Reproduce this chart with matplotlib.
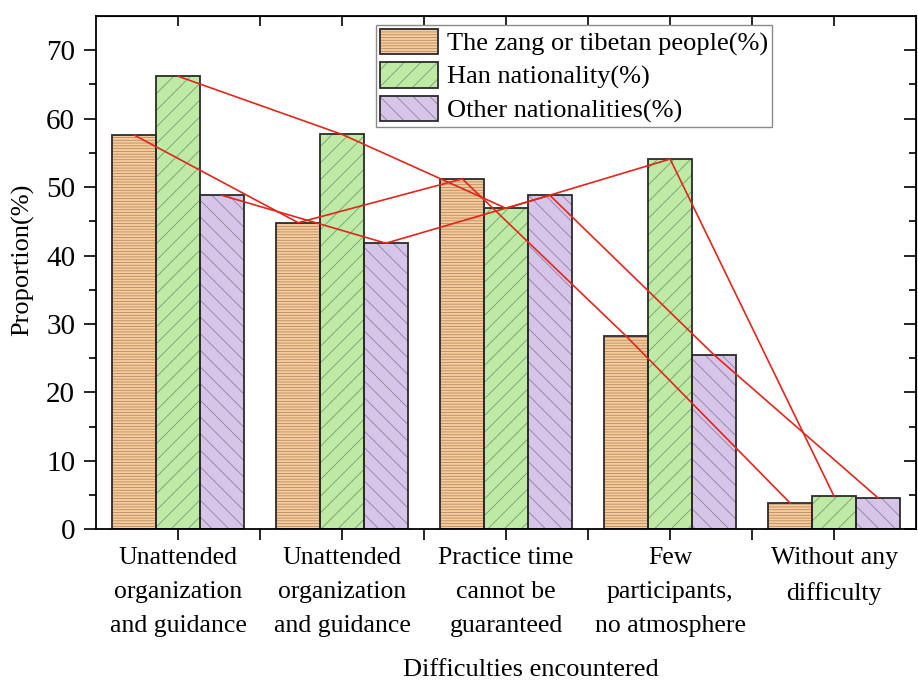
import matplotlib
matplotlib.use('Agg')
import matplotlib.pyplot as plt
import matplotlib.patches as mpatches
from matplotlib.legend_handler import HandlerTuple
import numpy as np

plt.rcParams['font.family'] = ['Liberation Serif', 'DejaVu Serif']
plt.rcParams['hatch.linewidth'] = 0.6

# data
categories = ['Unattended\norganization\nand guidance',
              'Unattended\norganization\nand guidance',
              'Practice time\ncannot be\nguaranteed',
              'Few\nparticipants,\nno atmosphere',
              'Without any\ndifficulty']
series_names = ['The zang or tibetan people(%)', 'Han nationality(%)', 'Other nationalities(%)']
zang = [57.6, 44.8, 51.2, 28.2, 3.8]
han = [66.2, 57.7, 46.9, 54.1, 4.8]
other = [48.8, 41.8, 48.8, 25.5, 4.6]

fills = ['#F9CC9A', '#BDEBA6', '#D6C4E9']
hatch_cols = ['#B08C6A', '#7F9A72', '#8E8499']
hatches = ['------', '//', '\\\\']

fig = plt.figure(figsize=(9.18, 6.84), dpi=100)
ax = fig.add_axes([0.1046, 0.2262, 0.8934, 0.7504])

x = np.arange(1, len(categories) + 1)
w = 0.267
handles = []
for i, vals in enumerate([zang, han, other]):
    pos = x + (i - 1) * w
    ax.bar(pos, vals, w, color=fills[i], edgecolor=hatch_cols[i], hatch=hatches[i], lw=0, zorder=2)
    ax.bar(pos, vals, w, fill=False, edgecolor='#2b2b2b', lw=1.3, zorder=2.5)
    ax.plot(pos, vals, color='#E2261C', lw=1.2, zorder=3)
    handles.append((mpatches.Patch(facecolor=fills[i], edgecolor=hatch_cols[i], hatch=hatches[i], lw=0),
                    mpatches.Patch(fill=False, edgecolor='#2b2b2b', lw=1.3)))

ax.set_xlim(0.5, 5.5)
ax.set_ylim(0, 75)
ax.set_yticks(np.arange(0, 71, 10))
ax.set_yticks(np.arange(5, 75, 10), minor=True)
ax.set_xticks(x)
ax.set_xticks(np.arange(1.5, 5, 1), minor=True)
ax.set_xticklabels(categories, fontsize=18.5, linespacing=1.7)
ax.tick_params(axis='y', labelsize=21, pad=6)
ax.tick_params(which='major', length=9, width=1.2, direction='out')
ax.tick_params(which='minor', length=5, width=1.2, direction='out')
ax.tick_params(axis='x', which='both', length=8, pad=5)
for s in ax.spines.values():
    s.set_linewidth(1.3)

# inward ticks on the top and right edges
ax2 = ax.secondary_xaxis('top')
ax2.set_xticks(x)
ax2.set_xticks(np.arange(1.5, 5, 1), minor=True)
ax2.tick_params(which='both', direction='in', length=7, width=1.2, labeltop=False)
ax3 = ax.secondary_yaxis('right')
ax3.set_yticks(np.arange(0, 71, 10))
ax3.set_yticks(np.arange(5, 75, 10), minor=True)
ax3.tick_params(which='major', direction='in', length=9, width=1.2, labelright=False)
ax3.tick_params(which='minor', direction='in', length=5, width=1.2, labelright=False)

ax.set_ylabel('Proportion(%)', fontsize=19)
ax.yaxis.set_label_coords(-0.075, 0.525)
ax.set_xlabel('Difficulties encountered', fontsize=19)
ax.xaxis.set_label_coords(0.53, -0.253)

leg = ax.legend(handles, series_names, handler_map={tuple: HandlerTuple(ndivide=1, pad=0)},
                loc='upper left', bbox_to_anchor=(0.341, 0.983), fontsize=19,
                handlelength=2.2, handleheight=1.1, handletextpad=0.35,
                labelspacing=0.25, borderpad=0.15, borderaxespad=0,
                fancybox=False, framealpha=1, edgecolor='#8a8a8a')
leg.get_frame().set_linewidth(1.0)

fig.savefig('out.png', dpi=100)
